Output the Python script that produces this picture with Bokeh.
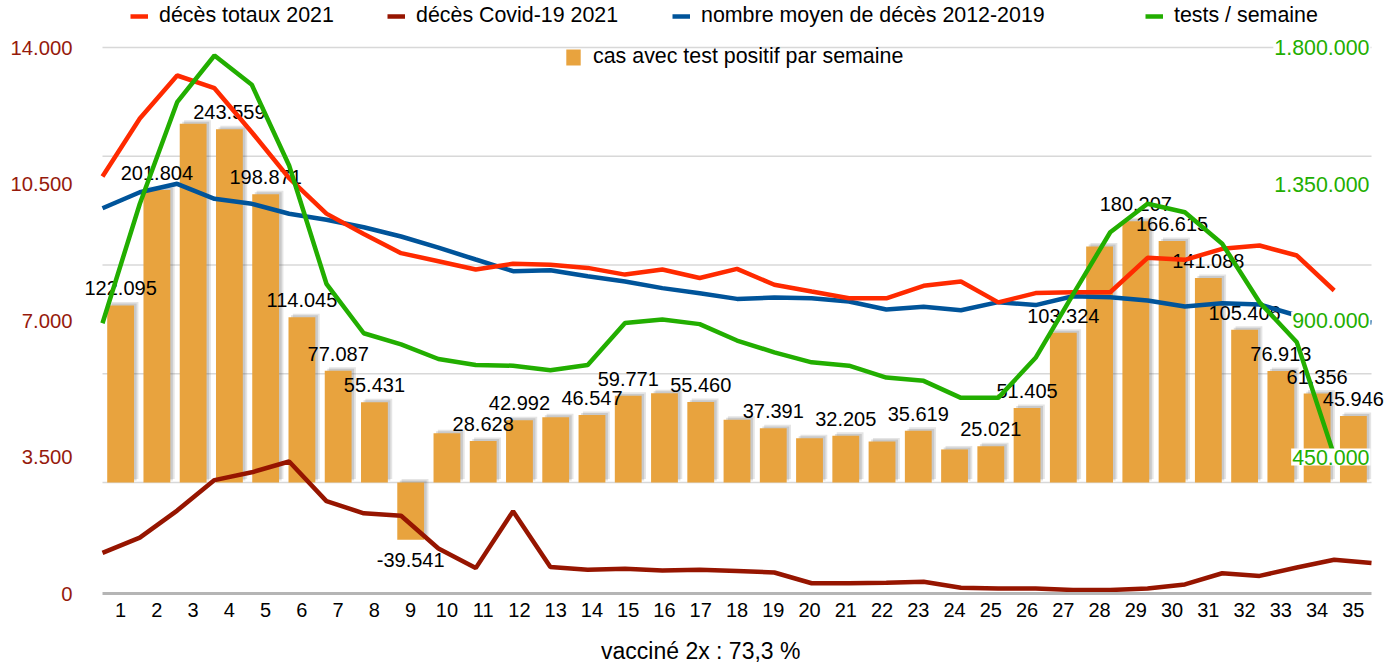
from bokeh.plotting import figure
from bokeh.models import (Range1d, FixedTicker, Legend, LegendItem,
                          ColumnDataSource, LabelSet, Label)
from bokeh.transform import dodge
from bokeh.core.properties import value
from bokeh.embed import file_html
from bokeh.resources import INLINE

# ---------------- data ----------------
weeks = list(range(1, 36))

positive_cases = [122095, 201804, 247500, 243559, 198871, 114045, 77087, 55431,
                  -39541, 34000, 28628, 42992, 45000, 46547, 59771, 61600,
                  55460, 43300, 37391, 30600, 32205, 28300, 35619, 22800,
                  25021, 51405, 103324, 162800, 180207, 166615, 141088,
                  105406, 76913, 61356, 45946]

case_labels = ["122.095", "201.804", "", "243.559", "198.871", "114.045",
               "77.087", "55.431", "-39.541", "", "28.628", "42.992", "",
               "46.547", "59.771", "", "55.460", "", "37.391", "", "32.205",
               "", "35.619", "", "25.021", "51.405", "103.324", "", "180.207",
               "166.615", "141.088", "105.406", "76.913", "61.356", "45.946"]

deaths_total_2021 = [10692, 12179, 13282, 12956, 11828, 10650, 9740, 9220,
                     8727, 8520, 8307, 8454, 8428, 8349, 8177, 8307, 8089,
                     8323, 7918, 7743, 7569, 7569, 7890, 8002, 7465, 7702,
                     7725, 7725, 8607, 8556, 8838, 8923, 8666, 7769]

deaths_covid_2021 = [1041, 1431, 2126, 2908, 3107, 3384, 2369, 2056, 1995,
                     1154, 651, 2108, 677, 608, 633, 590, 608, 575, 538, 262,
                     262, 277, 303, 149, 131, 131, 87, 87, 131, 233, 520, 451,
                     667, 867, 782]

deaths_avg_2012_2019 = [9879, 10289, 10505, 10120, 9992, 9736, 9582, 9392,
                        9154, 8869, 8564, 8264, 8290, 8133, 8002, 7830, 7700,
                        7554, 7590, 7572, 7487, 7284, 7354, 7262, 7470, 7395,
                        7623, 7597, 7512, 7358, 7443, 7410, 7128, 7040, 6948]

tests_per_week = [891000, 1285000, 1619700, 1773600, 1677000, 1411000,
                  1021000, 858000, 821000, 773000, 753000, 751000, 736000,
                  753000, 892000, 903000, 888000, 834000, 795000, 762000,
                  751000, 712000, 701000, 645000, 645000, 777000, 985000,
                  1191000, 1285000, 1257000, 1153000, 960000, 828000, 455000]

left_ticks = [0, 3500, 7000, 10500, 14000]
right_ticks = [450000, 900000, 1350000, 1800000]
grid_ticks = [0, 75000, 150000, 225000, 300000]

x_title = "vacciné 2x : 73,3 %"


def fmt(v):
    return f"{v:,}".replace(",", ".")


# ---------------- style / layout ----------------
FONT = "Liberation Sans"
C_RED = "#ff2a00"
C_DARKRED = "#961500"
C_BLUE = "#00549a"
C_GREEN = "#22ae00"
C_BAR = "#e8a33e"
C_AXIS_L = "#961a0c"

W, H = 1386, 664
FR_LEFT = 78                          # frame left edge (canvas px)
ZERO_Y = 593                          # canvas y of the left-axis zero
PLOT_L, PLOT_R = 102, 1371            # visible chart area (canvas px)
PX_LEFT_UNIT = 546 / 14000            # px per left-axis unit
LEFT_TOP = ZERO_Y / PX_LEFT_UNIT
LEFT_BOTTOM = -(H - ZERO_Y) / PX_LEFT_UNIT
TESTS_PER_LEFT = 1800000 / 14000
BASE_PX = 111                         # bar baseline above the zero line
PX_CASE = 435 / 300000
CASES_MIN = -(BASE_PX + H - ZERO_Y) / PX_CASE
CASES_MAX = (ZERO_Y - BASE_PX) / PX_CASE

bar_unit = (PLOT_R - PLOT_L) / 35.0
line_unit = (PLOT_R - PLOT_L) / 34.0
x_lo = 0.5 - (PLOT_L - FR_LEFT) / bar_unit
x_hi = 35.5 + (W - PLOT_R) / bar_unit
l_lo = 0 - (PLOT_L - FR_LEFT) / line_unit
l_hi = 34 + (W - PLOT_R) / line_unit

p = figure(width=W, height=H, output_backend="svg", toolbar_location=None,
           x_range=Range1d(x_lo, x_hi),
           y_range=Range1d(LEFT_BOTTOM, LEFT_TOP),
           min_border_left=FR_LEFT, min_border_right=0, min_border_top=0,
           min_border_bottom=0)
p.outline_line_color = None
p.background_fill_color = "white"
p.xgrid.visible = False
p.ygrid.visible = False

p.extra_y_ranges = {"tests": Range1d(LEFT_BOTTOM * TESTS_PER_LEFT,
                                     LEFT_TOP * TESTS_PER_LEFT),
                    "cases": Range1d(CASES_MIN, CASES_MAX)}
p.extra_x_ranges = {"lines": Range1d(l_lo, l_hi)}

# horizontal grid lines (bar axis ticks)
p.segment(x0=0.5, x1=35.5, y0=grid_ticks, y1=grid_ticks,
          y_range_name="cases", line_color="#d8d8d8", line_width=1.5)

# left axis
ya = p.yaxis[0]
ya.ticker = FixedTicker(ticks=left_ticks)
ya.major_label_overrides = {t: fmt(t) for t in left_ticks}
ya.major_label_text_color = C_AXIS_L
ya.major_label_text_font = FONT
ya.major_label_text_font_size = "20.3px"
ya.axis_line_color = None
ya.major_tick_line_color = None
ya.minor_tick_line_color = None
ya.major_tick_out = 0
ya.major_label_standoff = 6

# bottom axis, fixed at the zero of the left axis
xa = p.xaxis[0]
xa.fixed_location = 0
xa.ticker = FixedTicker(ticks=weeks)
xa.bounds = (0.5, 35.5)
xa.major_label_text_font = FONT
xa.major_label_text_font_size = "20px"
xa.major_label_text_color = "black"
xa.axis_line_color = "#b5b5b5"
xa.axis_line_width = 3
xa.major_tick_line_color = None
xa.minor_tick_line_color = None
xa.major_tick_out = 0
xa.major_label_standoff = 9

# x title
p.add_layout(Label(x=17.0, y=-57 / PX_LEFT_UNIT, text=x_title,
                   text_align="center", text_baseline="middle",
                   text_font=FONT, text_font_size="23px",
                   text_color="black"))

# ---------------- bars ----------------
src = ColumnDataSource(dict(
    week=weeks,
    cases=positive_cases,
    label=case_labels,
    label_dy=[17 if v >= 0 else -20 for v in positive_cases],
    sh_top1=[v + 2400 for v in positive_cases],
    sh_top2=[v + 1300 for v in positive_cases],
))

p.vbar(x=dodge("week", 0.12, range=p.x_range), top="sh_top1", bottom=2400,
       width=0.74, source=src, y_range_name="cases",
       fill_color="#444444", fill_alpha=0.14, line_color=None)
p.vbar(x=dodge("week", 0.07, range=p.x_range), top="sh_top2", bottom=1300,
       width=0.74, source=src, y_range_name="cases",
       fill_color="#444444", fill_alpha=0.17, line_color=None)
r_bar = p.vbar(x="week", top="cases", bottom=0, width=0.74, source=src,
               y_range_name="cases", fill_color=C_BAR, line_color=None)

bar_labels = LabelSet(x="week", y="cases", text="label", y_offset="label_dy",
                      source=src, y_range_name="cases", level="glyph",
                      text_align="center", text_baseline="middle",
                      text_font=value(FONT), text_font_size=value("20px"),
                      text_color="black")
p.renderers.append(bar_labels)

# ---------------- lines ----------------
LW = 4.5
r_dark = p.line(x=list(range(len(deaths_covid_2021))), y=deaths_covid_2021,
                x_range_name="lines", line_color=C_DARKRED, line_width=LW)
r_blue = p.line(x=list(range(len(deaths_avg_2012_2019))),
                y=deaths_avg_2012_2019, x_range_name="lines",
                line_color=C_BLUE, line_width=LW)
r_red = p.line(x=list(range(len(deaths_total_2021))), y=deaths_total_2021,
               x_range_name="lines", line_color=C_RED, line_width=LW)
r_green = p.line(x=list(range(len(tests_per_week))), y=tests_per_week,
                 x_range_name="lines", y_range_name="tests",
                 line_color=C_GREEN, line_width=LW)

# right axis labels (drawn inside the plot, white background)
rsrc = ColumnDataSource(dict(y=right_ticks, t=[fmt(v) for v in right_ticks]))
p.text(x=35.5, y="y", text="t", source=rsrc, y_range_name="tests",
       x_offset=-1, text_align="right", text_baseline="middle",
       text_font=value(FONT), text_font_size=value("21.4px"),
       text_color=C_GREEN, background_fill_color="white", padding=1)

# ---------------- legends ----------------
def add_legend(label, renderer, loc):
    leg = Legend(items=[LegendItem(label=label, renderers=[renderer])],
                 location=loc, orientation="horizontal", padding=0, margin=0,
                 glyph_width=18, glyph_height=20, label_standoff=11,
                 label_text_font=FONT, label_text_font_size="21.4px",
                 label_text_color="black", border_line_color=None,
                 background_fill_alpha=0)
    p.add_layout(leg)


dx = PLOT_L - FR_LEFT
dy = H - ZERO_Y
add_legend("décès totaux 2021", r_red, (28 + dx, 565 + dy))
add_legend("décès Covid-19 2021", r_dark, (285 + dx, 565 + dy))
add_legend("nombre moyen de décès 2012-2019", r_blue, (570 + dx, 565 + dy))
add_legend("tests / semaine", r_green, (1043 + dx, 565 + dy))
add_legend("cas avec test positif par semaine", r_bar, (462 + dx, 524 + dy))

open("out.html", "w").write(file_html(p, INLINE))
